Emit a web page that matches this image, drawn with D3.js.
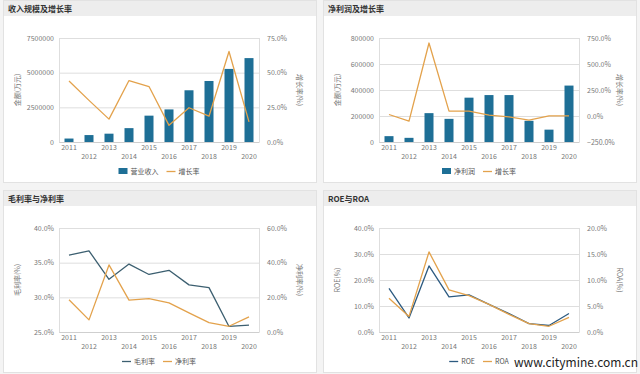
<!DOCTYPE html>
<html><head><meta charset="utf-8">
<script src="https://cdn.jsdelivr.net/npm/d3@7/dist/d3.min.js"></script>
<style>
html,body{margin:0;padding:0;background:#f4f4f4;}
svg{display:block;}
text{font-family:"Noto Sans CJK SC","Open Sans",sans-serif;}
</style></head>
<body>
<svg id="c" width="640" height="374"></svg>
<script>
const years = ['2011','2012','2013','2014','2015','2016','2017','2018','2019','2020'];
const revenue = [250000,500000,600000,1000000,1900000,2350000,3730000,4400000,5270000,6050000];
const revenueGrowth = [44.0,30.0,16.5,44.3,40.0,12.0,24.7,18.6,65.3,14.5];
const netProfit = [45000,32000,222000,178000,341000,361000,361000,163000,95000,434000];
const profitGrowth = [14.5,-50,701.6,46.8,47,8,-8,-40,1.6,1.6];
const grossMargin = [36.1,36.7,32.6,34.8,33.3,33.9,31.8,31.4,25.8,26.0];
const netMargin = [18.6,7.0,38.7,18.4,19.2,16.8,11.0,5.4,3.3,8.7];
const roe = [16.8,5.4,25.4,13.5,14.3,10.6,7.1,3.2,2.5,7.1];
const roa = [6.5,3.0,15.4,8.1,7.0,5.3,3.4,1.6,1.1,2.8];

const titles = ['收入规模及增长率','净利润及增长率','毛利率与净利率','ROE与ROA'];
const BLUE = '#1e6f96', ORANGE = '#e3a24c', SLATE = '#3c5f70', NAVY = '#2c5a80';
const pct = d => d3.format('.1f')(d) + '%';

const panels = [
  {x0:0,y0:0,title:titles[0],left:{dom:[0,7500000],ticks:[0,2500000,5000000,7500000],fmt:d3.format('d'),name:'金额(万元)'},
   right:{dom:[0,75],ticks:[0,25,50,75],fmt:pct,name:'增长率(%)'},
   bars:{data:revenue,color:BLUE,label:'营业收入'},
   lines:[{data:revenueGrowth,axis:'right',color:ORANGE,label:'增长率'}]},
  {x0:320,y0:0,title:titles[1],left:{dom:[0,800000],ticks:[0,200000,400000,600000,800000],fmt:d3.format('d'),name:'金额(万元)'},
   right:{dom:[-250,750],ticks:[-250,0,250,500,750],fmt:pct,name:'增长率(%)'},
   bars:{data:netProfit,color:BLUE,label:'净利润'},
   lines:[{data:profitGrowth,axis:'right',color:ORANGE,label:'增长率'}]},
  {x0:0,y0:190,title:titles[2],left:{dom:[25,40],ticks:[25,30,35,40],fmt:pct,name:'毛利率(%)'},
   right:{dom:[0,60],ticks:[0,20,40,60],fmt:pct,name:'净利率(%)'},
   lines:[{data:grossMargin,axis:'left',color:SLATE,label:'毛利率'},{data:netMargin,axis:'right',color:ORANGE,label:'净利率'}]},
  {x0:320,y0:190,title:titles[3],left:{dom:[0,40],ticks:[0,10,20,30,40],fmt:pct,name:'ROE(%)'},
   right:{dom:[0,20],ticks:[0,5,10,15,20],fmt:pct,name:'ROA(%)'},
   lines:[{data:roe,axis:'left',color:NAVY,label:'ROE'},{data:roa,axis:'right',color:ORANGE,label:'ROA'}]}
];

const svg = d3.select('#c');
const L = 59, R = 259, T = 38, B = 142;

panels.forEach(p => {
  const g = svg.append('g').attr('transform', `translate(${p.x0},${p.y0})`);
  g.append('rect').attr('x',3.5).attr('y',0.5).attr('width',313).attr('height',182)
    .attr('fill','#fff').attr('stroke','#e2e2e2');
  g.append('rect').attr('x',4).attr('y',1).attr('width',312).attr('height',15).attr('fill','#ededed');
  g.append('text').attr('x',8).attr('y',12).attr('font-size',8).attr('font-weight','bold')
    .attr('fill','#333').text(p.title);

  const x = d3.scaleBand().domain(years).range([L,R]).paddingInner(0.55).paddingOuter(0.275);
  const yl = d3.scaleLinear().domain(p.left.dom).range([B,T]);
  const yr = d3.scaleLinear().domain(p.right.dom).range([B,T]);

  g.append('g').selectAll('line').data(p.left.ticks).join('line')
    .attr('x1',L).attr('x2',R).attr('y1',d=>yl(d)+0.5).attr('y2',d=>yl(d)+0.5)
    .attr('stroke','#dedede');
  g.append('line').attr('x1',L+0.5).attr('x2',L+0.5).attr('y1',T).attr('y2',B).attr('stroke','#dedede');
  g.append('line').attr('x1',R+0.5).attr('x2',R+0.5).attr('y1',T).attr('y2',B).attr('stroke','#dedede');

  const la = g.append('g').attr('transform',`translate(${L},0)`)
    .call(d3.axisLeft(yl).tickValues(p.left.ticks).tickFormat(p.left.fmt).tickSize(0).tickPadding(5));
  la.select('.domain').remove();
  la.selectAll('text').attr('font-size',7).attr('fill','#777');
  const ra = g.append('g').attr('transform',`translate(${R},0)`)
    .call(d3.axisRight(yr).tickValues(p.right.ticks).tickFormat(p.right.fmt).tickSize(0).tickPadding(8));
  ra.select('.domain').remove();
  ra.selectAll('text').attr('font-size',7).attr('fill','#777');

  g.append('text').attr('transform',`translate(20,90) rotate(-90)`).attr('text-anchor','middle')
    .attr('font-size',7).attr('fill','#777').text(p.left.name);
  g.append('text').attr('transform',`translate(297,90) rotate(90)`).attr('text-anchor','middle')
    .attr('font-size',7).attr('fill','#777').text(p.right.name);

  const xa = g.append('g').attr('transform',`translate(0,${B})`)
    .call(d3.axisBottom(x).tickSize(0).tickPadding(3));
  xa.select('.domain').attr('stroke','#cfcfcf');
  xa.selectAll('text').attr('font-size',7).attr('fill','#777')
    .attr('dy',(d,i)=> i%2===0 ? '0.71em' : '2.0em');

  if (p.bars) {
    g.append('g').selectAll('rect').data(p.bars.data).join('rect')
      .attr('x',(d,i)=>x(years[i])).attr('width',x.bandwidth())
      .attr('y',d=>yl(d)).attr('height',d=>B-yl(d)).attr('fill',p.bars.color);
  }
  p.lines.forEach(ln => {
    const ys = ln.axis==='left' ? yl : yr;
    const line = d3.line().x((d,i)=>x(years[i])+x.bandwidth()/2).y(d=>ys(d));
    g.append('path').datum(ln.data).attr('d',line).attr('fill','none')
      .attr('stroke',ln.color).attr('stroke-width',1.3).attr('stroke-linejoin','round');
  });

  const items = [];
  if (p.bars) items.push({type:'bar',color:p.bars.color,label:p.bars.label});
  p.lines.forEach(l=>items.push({type:'line',color:l.color,label:l.label}));
  const lg = g.append('g');
  let cx = 0;
  items.forEach(it => {
    const ig = lg.append('g').attr('transform',`translate(${cx},0)`);
    if (it.type==='bar') ig.append('rect').attr('x',0).attr('y',-3).attr('width',9).attr('height',6).attr('fill',it.color);
    else ig.append('line').attr('x1',0).attr('x2',9).attr('y1',0.5).attr('y2',0.5).attr('stroke',it.color).attr('stroke-width',1.3);
    const t = ig.append('text').attr('x',12).attr('y',2.5).attr('font-size',7).attr('fill','#555').text(it.label);
    cx += 12 + t.node().getComputedTextLength() + 8;
  });
  const w = cx - 8;
  lg.attr('transform',`translate(${159 - w/2},171)`);
});

svg.append('text').attr('x',638).attr('y',367).attr('text-anchor','end').attr('font-size',12)
  .attr('font-family','"Liberation Sans",Arial,sans-serif').attr('fill','#222').text('www.citymine.com.cn');
</script>
</body></html>
